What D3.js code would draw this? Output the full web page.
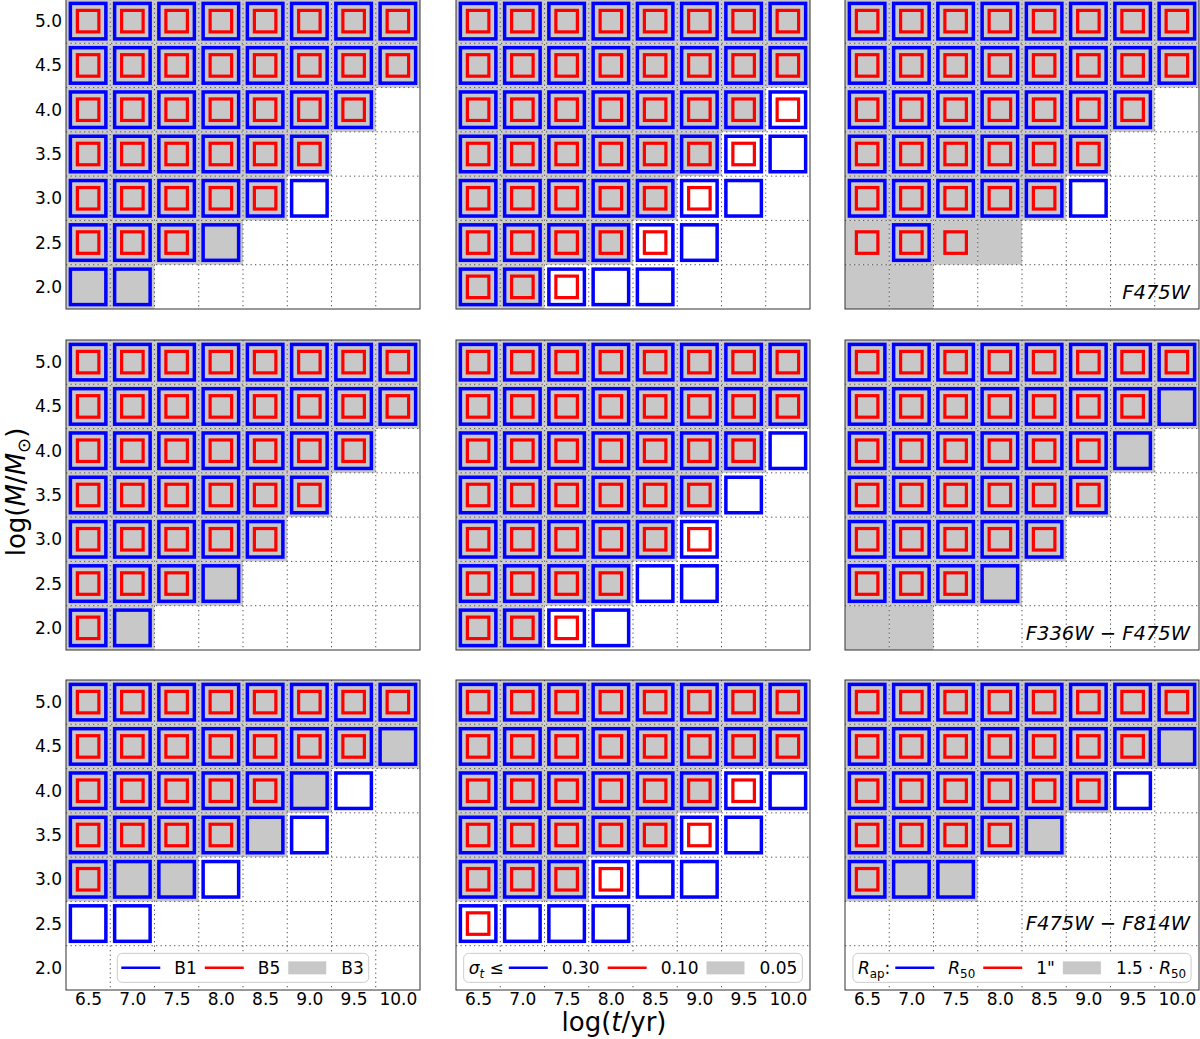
<!DOCTYPE html>
<html>
<head>
<meta charset="utf-8">
<script src="https://cdn.jsdelivr.net/npm/d3@7"></script>
<style>
  body { margin: 0; background: #fff; }
  svg { font-family: "DejaVu Sans", sans-serif; }
</style>
</head>
<body>
<div id="chart"></div>
<script>
var ages = [6.5, 7.0, 7.5, 8.0, 8.5, 9.0, 9.5, 10.0];
var masses = [5.0, 4.5, 4.0, 3.5, 3.0, 2.5, 2.0];   // top row first

// one string per mass row (5.0 ... 2.0), one token per age;
// b = blue square, r = red square, g = grey cell, - = nothing
var gridF475W_bands = [
  "brg brg brg brg brg brg brg brg",
  "brg brg brg brg brg brg brg brg",
  "brg brg brg brg brg brg brg -",
  "brg brg brg brg brg brg - -",
  "brg brg brg brg brg b - -",
  "brg brg brg bg - - - -",
  "bg bg - - - - - -"];
var gridF475W_sigma = [
  "brg brg brg brg brg brg brg brg",
  "brg brg brg brg brg brg brg brg",
  "brg brg brg brg brg brg brg br",
  "brg brg brg brg brg brg br b",
  "brg brg brg brg brg br b -",
  "brg brg brg brg br b - -",
  "brg brg br b b - - -"];
var gridF475W_aper = [
  "brg brg brg brg brg brg brg brg",
  "brg brg brg brg brg brg brg brg",
  "brg brg brg brg brg brg brg -",
  "brg brg brg brg brg brg - -",
  "brg brg brg brg brg b - -",
  "rg brg rg g - - - -",
  "g g - - - - - -"];
var gridF336W_bands = [
  "brg brg brg brg brg brg brg brg",
  "brg brg brg brg brg brg brg brg",
  "brg brg brg brg brg brg brg -",
  "brg brg brg brg brg brg - -",
  "brg brg brg brg brg - - -",
  "brg brg brg bg - - - -",
  "brg bg - - - - - -"];
var gridF336W_sigma = [
  "brg brg brg brg brg brg brg brg",
  "brg brg brg brg brg brg brg brg",
  "brg brg brg brg brg brg brg b",
  "brg brg brg brg brg brg b -",
  "brg brg brg brg brg br - -",
  "brg brg brg brg b b - -",
  "brg brg br b - - - -"];
var gridF336W_aper = [
  "brg brg brg brg brg brg brg brg",
  "brg brg brg brg brg brg brg bg",
  "brg brg brg brg brg brg bg -",
  "brg brg brg brg brg brg - -",
  "brg brg brg brg brg - - -",
  "brg brg brg bg - - - -",
  "g g - - - - - -"];
var gridF814W_bands = [
  "brg brg brg brg brg brg brg brg",
  "brg brg brg brg brg brg brg bg",
  "brg brg brg brg brg bg b -",
  "brg brg brg brg bg b - -",
  "brg bg bg b - - - -",
  "b b - - - - - -",
  "- - - - - - - -"];
var gridF814W_sigma = [
  "brg brg brg brg brg brg brg brg",
  "brg brg brg brg brg brg brg brg",
  "brg brg brg brg brg brg br b",
  "brg brg brg brg brg br b -",
  "brg brg brg br b b - -",
  "br b b b - - - -",
  "- - - - - - - -"];
var gridF814W_aper = [
  "brg brg brg brg brg brg brg brg",
  "brg brg brg brg brg brg brg bg",
  "brg brg brg brg brg brg b -",
  "brg brg brg brg bg - - -",
  "brg bg bg - - - - -",
  "- - - - - - - -",
  "- - - - - - - -"];

var rowGrids = [
  [gridF475W_bands, gridF475W_sigma, gridF475W_aper],
  [gridF336W_bands, gridF336W_sigma, gridF336W_aper],
  [gridF814W_bands, gridF814W_sigma, gridF814W_aper]];
var filterLabels = ["F475W", "F336W \u2212 F475W", "F475W \u2212 F814W"];

// legend labels as [text, style] pieces: i = italic, s = subscript
var legendLead = [null, [["\u03c3", "i"], ["t", "is"], [" \u2264", ""]], [["R", "i"], ["ap", "s"], [":", ""]]];
var legendBands = [[["B1", ""]], [["B5", ""]], [["B3", ""]]];
var legendSigma = [[["0.30", ""]], [["0.10", ""]], [["0.05", ""]]];
var legendAper = [[["R", "i"], ["50", "s"]], [["1\"", ""]], [["1.5 \u00b7 ", ""], ["R", "i"], ["50", "s"]]];
var legendLabels = [legendBands, legendSigma, legendAper];

var BLUE = "#0000ff", RED = "#ff0000", GREY = "#c8c8c8";
var colLeft = [66, 456, 845], rowTop = [-1, 340, 680];
var pw = 354, ph = 310;

var svg = d3.select("#chart").append("svg")
    .attr("width", 1200)
    .attr("height", 1039);

function richText(sel, pieces, size) {
    pieces.forEach(function(p) {
        var ts = sel.append("tspan").text(p[0]);
        if (p[1].indexOf("i") >= 0) ts.attr("font-style", "italic");
        if (p[1].indexOf("s") >= 0) {
            ts.attr("font-size", size * 0.7).attr("dy", size * 0.22);
        } else if (sel.node().lastChild.previousSibling && sel.selectAll("tspan").size() > 1) {
            // undo the drop of a previous subscript
            var prev = sel.node().lastChild.previousSibling;
            if (prev.getAttribute("dy")) ts.attr("dy", -size * 0.22);
        }
    });
    return sel;
}

function drawLegend(g, col, x) {
    var fs = 17, cy = x.cy;
    var lg = g.append("g");
    var box = lg.append("rect");
    var cur = 5;
    var lead = legendLead[col];
    if (lead) {
        var t = richText(lg.append("text").attr("x", cur).attr("y", cy + 6).attr("font-size", fs), lead, fs);
        cur += t.node().getComputedTextLength() + 5;
    } else cur = 4;
    var colors = [BLUE, RED, null];
    legendLabels[col].forEach(function(lab, i) {
        if (colors[i]) {
            lg.append("line").attr("x1", cur).attr("x2", cur + 39)
              .attr("y1", cy).attr("y2", cy)
              .attr("stroke", colors[i]).attr("stroke-width", 2.5);
        } else {
            lg.append("rect").attr("x", cur).attr("y", cy - 6.5)
              .attr("width", 38).attr("height", 13).attr("fill", GREY);
        }
        cur += 39 + 14;
        var t = richText(lg.append("text").attr("x", cur).attr("y", cy + 6).attr("font-size", fs), lab, fs);
        cur += t.node().getComputedTextLength();
        if (i < 2) cur += 8;
    });
    cur += 5;
    box.attr("x", 0).attr("y", cy - 14.5).attr("width", cur).attr("height", 29)
       .attr("rx", 5).attr("fill", "#fff").attr("stroke", "#cccccc").attr("stroke-width", 1);
    lg.attr("transform", "translate(" + (pw / 2 - cur / 2) + ",0)");
}

rowGrids.forEach(function(grids, r) {
    grids.forEach(function(grid, c) {
        var g = svg.append("g")
            .attr("transform", "translate(" + colLeft[c] + "," + rowTop[r] + ")");

        var xScale = d3.scaleLinear().domain([6.25, 10.25]).range([0, pw]);
        var yScale = d3.scaleLinear().domain([1.75, 5.25]).range([ph, 0]);
        var cw = xScale(6.75) - xScale(6.25);

        var cells = [];
        grid.forEach(function(row, j) {
            row.split(" ").forEach(function(tok, i) {
                cells.push({age: ages[i], mass: masses[j], code: tok});
            });
        });

        g.selectAll("rect.grey")
            .data(cells.filter(d => d.code.indexOf("g") >= 0))
            .enter().append("rect")
            .attr("x", d => xScale(d.age - 0.25))
            .attr("y", d => yScale(d.mass + 0.25))
            .attr("width", cw)
            .attr("height", cw)
            .attr("fill", GREY);

        // dotted grid at cell boundaries
        var bx = d3.range(6.75, 10.0, 0.5), by = d3.range(2.25, 5.0, 0.5);
        g.selectAll("line.gx").data(bx).enter().append("line")
            .attr("x1", d => xScale(d)).attr("x2", d => xScale(d))
            .attr("y1", 0).attr("y2", ph)
            .attr("stroke", "#555").attr("stroke-width", 1).attr("stroke-dasharray", "1.3,3.2");
        g.selectAll("line.gy").data(by).enter().append("line")
            .attr("y1", d => yScale(d)).attr("y2", d => yScale(d))
            .attr("x1", 0).attr("x2", pw)
            .attr("stroke", "#555").attr("stroke-width", 1).attr("stroke-dasharray", "1.3,3.2");

        var bs = 35.5, rs = 21.5;
        g.selectAll("rect.blue")
            .data(cells.filter(d => d.code.indexOf("b") >= 0))
            .enter().append("rect")
            .attr("x", d => xScale(d.age) - bs / 2)
            .attr("y", d => yScale(d.mass) - bs / 2)
            .attr("width", bs).attr("height", bs)
            .attr("fill", "none").attr("stroke", BLUE).attr("stroke-width", 3.5);
        g.selectAll("rect.red")
            .data(cells.filter(d => d.code.indexOf("r") >= 0))
            .enter().append("rect")
            .attr("x", d => xScale(d.age) - rs / 2)
            .attr("y", d => yScale(d.mass) - rs / 2)
            .attr("width", rs).attr("height", rs)
            .attr("fill", "none").attr("stroke", RED).attr("stroke-width", 3.2);

        if (r < 2 && c == 2) {
            g.append("text")
                .attr("x", pw - 9).attr("y", ph - 10)
                .attr("text-anchor", "end")
                .attr("font-size", 19.5)
                .attr("font-style", "italic")
                .text(filterLabels[r]);
        }
        if (r == 2) {
            if (c == 2) {
                g.append("text")
                    .attr("x", pw - 9).attr("y", yScale(2.5) + 6)
                    .attr("text-anchor", "end")
                    .attr("font-size", 19.5)
                    .attr("font-style", "italic")
                    .text(filterLabels[r]);
            }
            drawLegend(g, c, {cy: yScale(2.0)});
        }

        g.append("rect")
            .attr("width", pw).attr("height", ph)
            .attr("fill", "none").attr("stroke", "#333").attr("stroke-width", 1);

        if (c == 0) {
            var ya = g.append("g")
                .call(d3.axisLeft(yScale).tickValues(masses).tickSize(0).tickPadding(4)
                      .tickFormat(d3.format(".1f")));
            ya.select(".domain").remove();
            ya.selectAll("text").attr("font-size", 17).attr("font-family", "DejaVu Sans").attr("fill", "#000");
        }
        if (r == 2) {
            var xa = g.append("g")
                .attr("transform", "translate(0," + ph + ")")
                .call(d3.axisBottom(xScale).tickValues(ages).tickSize(0).tickPadding(3)
                      .tickFormat(d3.format(".1f")));
            xa.select(".domain").remove();
            xa.selectAll("text").attr("font-size", 17).attr("font-family", "DejaVu Sans").attr("fill", "#000");
        }
    });
});

// axis titles
var xt = svg.append("text")
    .attr("x", 614).attr("y", 1031)
    .attr("text-anchor", "middle")
    .attr("font-size", 26);
xt.append("tspan").text("log(");
xt.append("tspan").attr("font-style", "italic").text("t");
xt.append("tspan").text("/yr)");

var yt = svg.append("text")
    .attr("transform", "translate(25,492) rotate(-90)")
    .attr("text-anchor", "middle")
    .attr("font-size", 26);
yt.append("tspan").text("log(");
yt.append("tspan").attr("font-style", "italic").text("M");
yt.append("tspan").text("/");
yt.append("tspan").attr("font-style", "italic").text("M");
yt.append("tspan").attr("font-size", 18).attr("dy", 5).text("\u2299");
yt.append("tspan").attr("dy", -5).text(")");
</script>
</body>
</html>
